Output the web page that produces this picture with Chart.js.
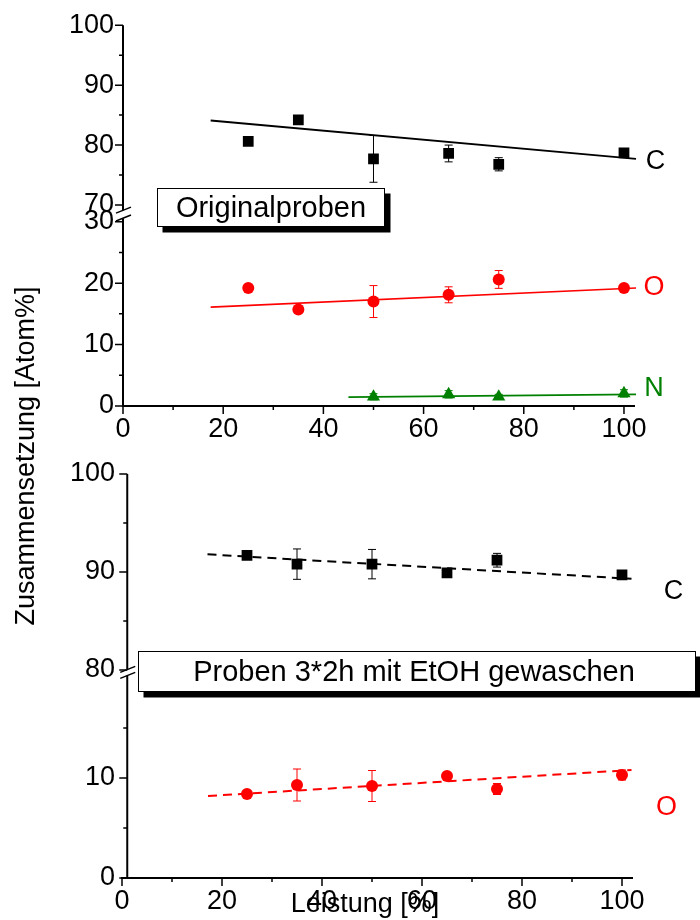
<!DOCTYPE html>
<html>
<head>
<meta charset="utf-8">
<title>Zusammensetzung vs. Leistung</title>
<script src="https://cdn.jsdelivr.net/npm/chart.js@4.4.1/dist/chart.umd.min.js"></script>
<style>
  html, body { margin: 0; padding: 0; background: #fff; }
  #wrap { position: relative; width: 700px; height: 920px; }
  #wrap canvas { position: absolute; left: 0; top: 0; }
</style>
</head>
<body>
<div id="wrap">
  <canvas id="orig" width="700" height="920"></canvas>
  <canvas id="washed" width="700" height="920"></canvas>
</div>
<script>
// ---- data ----
const leistung  = [25, 35, 50, 65, 75, 100];   // Leistung [%]
const leistungN = [50, 65, 75, 100];

// Originalproben
const origC    = [80.6, 84.2, 77.7, 78.6, 76.8, 78.7];
const origCErr = [0.4, 0.4, 3.9, 1.4, 1.1, 0.4];
const origO    = [19.2, 15.7, 17.0, 18.1, 20.6, 19.2];
const origOErr = [0.4, 0.3, 2.6, 1.3, 1.45, 0.4];
const origN    = [1.5, 1.9, 1.5, 2.05];
const origNErr = [0.5, 0.6, 0.4, 0.6];

// linear fits of the Originalproben (start / end)
const origCFitX = [17.5, 102.4], origCFitY = [84.1, 77.7];
const origOFitX = [17.5, 102.4], origOFitY = [16.1, 19.2];
const origNFitX = [45, 102.4],   origNFitY = [1.45, 1.9];

// Proben 3*2h mit EtOH gewaschen
const washC    = [91.7, 90.8, 90.8, 89.9, 91.2, 89.7];
const washCErr = [0.3, 1.55, 1.5, 0.4, 0.7, 0.4];
const washO    = [8.4, 9.3, 9.2, 10.2, 8.9, 10.3];
const washOErr = [0.3, 1.6, 1.55, 0.3, 0.55, 0.5];

const washCFitX = [17.1, 101.9], washCFitY = [91.8, 89.3];
const washOFitX = [17.2, 101.9], washOFitY = [8.2, 10.8];

// tick values
const xTicks       = [0, 10, 20, 30, 40, 50, 60, 70, 80, 90, 100];
const origHiTicks  = [70, 75, 80, 85, 90, 95, 100];
const origLoTicks  = [0, 5, 10, 15, 20, 25, 30];
const washHiTicks  = [80, 85, 90, 95, 100];
const washLoTicks  = [0, 5, 10, 15];

// ---- styling ----
const FONT = '"Liberation Sans", Arial, Helvetica, sans-serif';
const BLACK = '#000000', RED = '#ff0000', GREEN = '#008000';
Chart.defaults.font.family = FONT;
Chart.defaults.color = BLACK;

const pts = (xs, ys) => xs.map((x, i) => ({ x, y: ys[i] }));
const setTicks = arr => s => { s.ticks = arr.map(v => ({ value: v })); };

function yScale(min, max, ticks, weight, w, pad, order) {
  return {
    type: 'linear', position: 'left', stack: 'left', stackWeight: weight, weight: order,
    min, max,
    grid: { display: false, drawTicks: false }, border: { display: false },
    afterBuildTicks: setTicks(ticks),
    afterFit: s => { s.width = w; },
    ticks: {
      autoSkip: false, padding: pad, color: BLACK,
      font: { size: 27, family: FONT },
      callback: v => (v % 10 === 0 ? String(v) : '')
    }
  };
}

function xScale() {
  return {
    type: 'linear', position: 'bottom', min: 0, max: 102.2,
    grid: { display: false, drawTicks: false }, border: { display: false },
    afterBuildTicks: setTicks(xTicks),
    afterFit: s => { s.height = 40; },
    ticks: {
      autoSkip: false, maxRotation: 0, minRotation: 0, padding: 7, color: BLACK,
      font: { size: 27, family: FONT },
      callback: v => (v % 20 === 0 ? String(v) : '')
    }
  };
}

function markers(xs, ys, axis, color, style, r) {
  return { data: pts(xs, ys), yAxisID: axis, showLine: false, pointStyle: style,
           pointRadius: r, pointHoverRadius: r, backgroundColor: color, borderColor: color, borderWidth: 0 };
}
function fit(xs, ys, axis, color, width, dash) {
  return { data: pts(xs, ys), yAxisID: axis, showLine: true, pointRadius: 0, pointHoverRadius: 0,
           borderColor: color, borderWidth: width, borderDash: dash || [], clip: false, tension: 0 };
}

// axes lines, minor/major ticks, axis break, error bars, labels and boxes
function panelDecor(cfg) {
  return {
    id: 'decor_' + cfg.key,
    beforeDatasetsDraw(chart) {
      const ctx = chart.ctx, xs = chart.scales.x;
      ctx.save();
      ctx.lineWidth = 1;
      for (const e of cfg.errorBars) {
        const ys = chart.scales[e.axis];
        ctx.strokeStyle = e.color;
        e.x.forEach((xv, i) => {
          const px = xs.getPixelForValue(xv);
          const t = ys.getPixelForValue(e.y[i] + e.err[i]);
          const b = ys.getPixelForValue(e.y[i] - e.err[i]);
          ctx.beginPath();
          ctx.moveTo(px, t); ctx.lineTo(px, b);
          ctx.moveTo(px - 4, t); ctx.lineTo(px + 4, t);
          ctx.moveTo(px - 4, b); ctx.lineTo(px + 4, b);
          ctx.stroke();
        });
      }
      ctx.restore();
    },
    afterDraw(chart) {
      const ctx = chart.ctx;
      const xs = chart.scales.x, hi = chart.scales.yHi, lo = chart.scales.yLo;
      const ax = xs.getPixelForValue(cfg.yAxisAt);
      const mid = hi.bottom, g = cfg.breakGap;
      ctx.save();
      ctx.strokeStyle = BLACK;
      ctx.lineCap = 'butt';

      // x axis
      ctx.lineWidth = 2;
      ctx.beginPath();
      ctx.moveTo(xs.left - 1, xs.top); ctx.lineTo(xs.right, xs.top);
      ctx.stroke();

      // broken y axis
      ctx.beginPath();
      ctx.moveTo(ax, hi.top); ctx.lineTo(ax, mid - g);
      ctx.moveTo(ax, mid + g); ctx.lineTo(ax, lo.bottom + 1);
      ctx.stroke();
      ctx.lineWidth = 1.5;
      ctx.beginPath();
      for (const y0 of [mid - g, mid + g]) {
        ctx.moveTo(ax - 7, y0 + 2.8); ctx.lineTo(ax + 8, y0 - 3.2);
      }
      ctx.stroke();

      // tick marks
      ctx.lineWidth = 1.5;
      ctx.beginPath();
      for (const s of [hi, lo]) {
        for (const t of s.ticks) {
          const py = s.getPixelForValue(t.value);
          const len = t.value % 10 === 0 ? 8 : 4;
          ctx.moveTo(ax - len, py); ctx.lineTo(ax, py);
        }
      }
      for (const t of xs.ticks) {
        const px = xs.getPixelForValue(t.value);
        const len = t.value % 20 === 0 ? 8 : 4;
        ctx.moveTo(px, xs.top); ctx.lineTo(px, xs.top + len);
      }
      ctx.stroke();

      // element labels
      ctx.font = '27px ' + FONT;
      ctx.textAlign = 'center';
      ctx.textBaseline = 'middle';
      for (const l of cfg.labels) {
        ctx.fillStyle = l.color;
        ctx.fillText(l.text, xs.getPixelForValue(l.x), chart.scales[l.axis].getPixelForValue(l.y));
      }

      // axis titles
      ctx.fillStyle = BLACK;
      ctx.textBaseline = 'alphabetic';
      if (cfg.yTitle) {
        ctx.save();
        ctx.translate(34, 456);
        ctx.rotate(-Math.PI / 2);
        ctx.fillText(cfg.yTitle, 0, 0);
        ctx.restore();
      }
      if (cfg.xTitle) {
        ctx.fillText(cfg.xTitle, 365, 912);
      }

      // caption box with drop shadow
      const b = cfg.box;
      ctx.fillStyle = BLACK;
      ctx.fillRect(b.x + 5.5, b.y + 5.5, b.w, b.h);
      ctx.fillStyle = '#ffffff';
      ctx.fillRect(b.x, b.y, b.w, b.h);
      ctx.lineWidth = 1;
      ctx.strokeStyle = BLACK;
      ctx.strokeRect(b.x + 0.5, b.y + 0.5, b.w - 1, b.h - 1);
      ctx.fillStyle = BLACK;
      ctx.font = '29px ' + FONT;
      ctx.textBaseline = 'middle';
      ctx.fillText(b.text, b.tx, b.y + b.h / 2 + 1);
      ctx.restore();
    }
  };
}

const common = {
  responsive: false,
  animation: false,
  events: [],
  plugins: { legend: { display: false }, tooltip: { enabled: false } }
};

// ---- Originalproben ----
new Chart(document.getElementById('orig'), {
  type: 'scatter',
  data: {
    datasets: [
      fit(origCFitX, origCFitY, 'yHi', BLACK, 2),
      fit(origOFitX, origOFitY, 'yLo', RED, 1.6),
      fit(origNFitX, origNFitY, 'yLo', GREEN, 1.6),
      markers(leistung, origC, 'yHi', BLACK, 'rect', 7.6),
      markers(leistung, origO, 'yLo', RED, 'circle', 6),
      markers(leistungN, origN, 'yLo', GREEN, 'triangle', 7.6)
    ]
  },
  options: Object.assign({}, common, {
    layout: { padding: { left: 0, right: 65, top: 21.7, bottom: 474 } },
    scales: {
      x: xScale(),
      yLo: yScale(0, 31.21, origLoTicks, 193.5, 123, 9, 0),
      yHi: yScale(68.46, 100, origHiTicks, 190.8, 123, 9, 1)
    }
  }),
  plugins: [panelDecor({
    key: 'orig', yAxisAt: 0, breakGap: 3.9,
    errorBars: [
      { axis: 'yHi', color: BLACK, x: leistung, y: origC, err: origCErr },
      { axis: 'yLo', color: RED, x: leistung, y: origO, err: origOErr },
      { axis: 'yLo', color: GREEN, x: leistungN, y: origN, err: origNErr }
    ],
    labels: [
      { text: 'C', color: BLACK, axis: 'yHi', x: 106.3, y: 77.2 },
      { text: 'O', color: RED, axis: 'yLo', x: 106, y: 19.2 },
      { text: 'N', color: GREEN, axis: 'yLo', x: 106, y: 2.8 }
    ],
    yTitle: 'Zusammensetzung [Atom%]',
    box: { text: 'Originalproben', x: 157, y: 188, w: 228, h: 39, tx: 271 }
  })]
});

// ---- Proben 3*2h mit EtOH gewaschen ----
new Chart(document.getElementById('washed'), {
  type: 'scatter',
  data: {
    datasets: [
      fit(washCFitX, washCFitY, 'yHi', BLACK, 2, [9, 6]),
      fit(washOFitX, washOFitY, 'yLo', RED, 2, [9, 6]),
      markers(leistung, washC, 'yHi', BLACK, 'rect', 7.6),
      markers(leistung, washO, 'yLo', RED, 'circle', 6)
    ]
  },
  options: Object.assign({}, common, {
    layout: { padding: { left: 0, right: 67, top: 474, bottom: 2 } },
    scales: {
      x: xScale(),
      yLo: yScale(0, 20.54, washLoTicks, 205.4, 122, 7, 0),
      yHi: yScale(79.73, 100, washHiTicks, 198.6, 122, 7, 1)
    }
  }),
  plugins: [panelDecor({
    key: 'washed', yAxisAt: 1.05, breakGap: 3,
    errorBars: [
      { axis: 'yHi', color: BLACK, x: leistung, y: washC, err: washCErr },
      { axis: 'yLo', color: RED, x: leistung, y: washO, err: washOErr }
    ],
    labels: [
      { text: 'C', color: BLACK, axis: 'yHi', x: 110.3, y: 88.0 },
      { text: 'O', color: RED, axis: 'yLo', x: 108.9, y: 7.05 }
    ],
    xTitle: 'Leistung [%]',
    box: { text: 'Proben 3*2h mit EtOH gewaschen', x: 138, y: 651, w: 558, h: 41, tx: 414 }
  })]
});
</script>
</body>
</html>
